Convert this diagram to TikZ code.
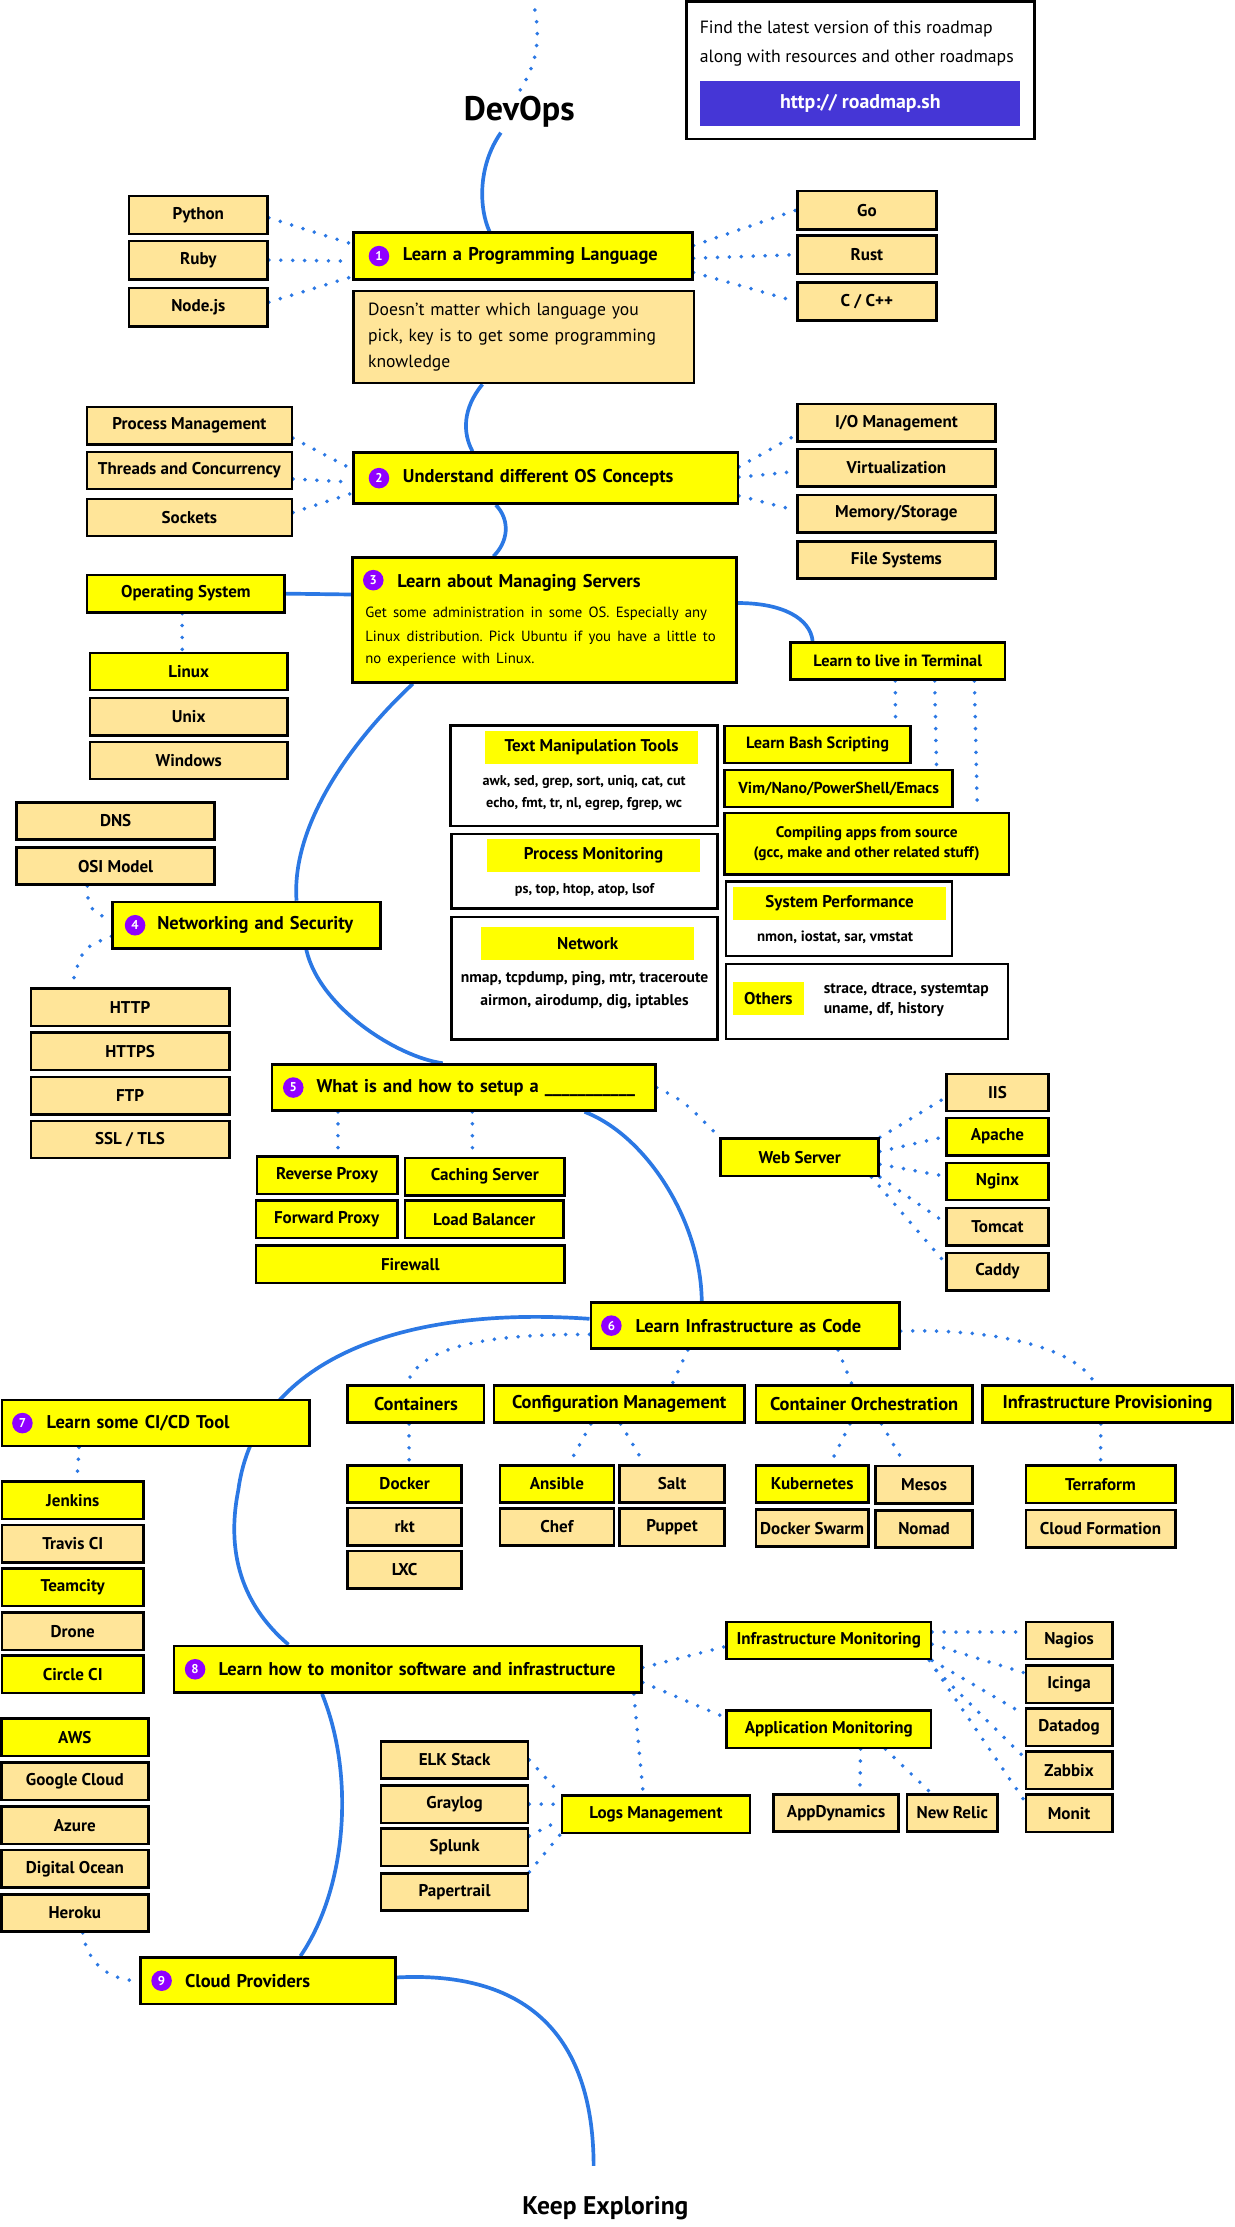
\documentclass[tikz,border=0pt]{standalone}
\usepackage{fontspec}
\setmainfont{PT Sans}
\frenchspacing
\definecolor{yel}{HTML}{FFFF00}
\definecolor{pale}{HTML}{FFE599}
\definecolor{road}{HTML}{2B78E4}
\definecolor{badgeviolet}{HTML}{9000FF}
\definecolor{indigo}{HTML}{4536D6}
\pgfdeclarelayer{bg}
\pgfsetlayers{bg,main}

\begin{document}
\begin{tikzpicture}[x=1pt, y=-1pt,
    box/.style={draw, line width=1.8pt, inner sep=0pt, minimum height=26.3pt, font=\bfseries\fontsize{12}{14}\selectfont},
    topic/.style={draw, line width=1.8pt, fill=yel, inner xsep=5pt, inner ysep=0pt, minimum height=33pt, align=left, font=\bfseries\fontsize{13}{15}\selectfont},
    badge/.style={circle, fill=badgeviolet, text=white, inner sep=0pt, minimum size=14.5pt, font=\bfseries\fontsize{9}{9}\selectfont},
    panel/.style={draw, line width=1.8pt, fill=white, inner sep=0pt},
    tag/.style={fill=yel, inner sep=0pt, minimum height=23.5pt, font=\bfseries\fontsize{12}{14}\selectfont},
    tools/.style={align=center, inner sep=0pt, font=\bfseries\fontsize{10}{15.7}\selectfont},
    spine/.style={road, line width=2.6pt},
    dots/.style={road, line width=2.8pt, line cap=round, dash pattern=on 0pt off 8.4pt}]
    \useasboundingbox (0,0) rectangle (870.4,1569.6);

    \node[font=\bfseries\fontsize{24}{26}\selectfont] (devops) at (366,79) {DevOps};
    \coordinate (top) at (377,7);
    \node[draw, line width=1.8pt, minimum width=245pt, minimum height=97pt] (rm) at (606.5,49.5) {};
    \node[anchor=west, align=left, inner sep=0pt, font=\fontsize{12.5}{19.9}\selectfont] (rmtext) at (493,30.65)
        {Find the latest version of this roadmap\\along with resources and other roadmaps};
    \node[fill=indigo, text=white, minimum width=225.3pt, minimum height=31.5pt, font=\bfseries\fontsize{14}{16}\selectfont] (url) at (606.35,72.75) {http:// roadmap.sh};

    \node[topic, text width=229pt] (b1) at (368.5,180.5) {\hspace*{30pt}Learn a Programming Language};
    \node[badge] (n1) at ([xshift=19pt]b1.west) {1};
    \node[draw, line width=1.8pt, fill=pale, text width=219pt, inner xsep=10.5pt, minimum height=65pt, align=left, font=\fontsize{12.4}{18.3}\selectfont] (d1) at (369,237.5)
        {Doesn't matter which language you\\pick, key is to get some programming\\knowledge};
    \foreach \n/\t/\y in {py/Python/151.5, rb/Ruby/183.3, nj/Node.js/216.5}
        \node[box, fill=pale, minimum width=97.6pt, minimum height=27pt] (\n) at (139.8,\y) {\t};
    \foreach \n/\t/\y in {go/Go/148.1, rs/Rust/179.5, cc/{C / C++}/212.5}
        \node[box, fill=pale, minimum width=98pt, minimum height=27pt] (\n) at (611,\y) {\t};

    \node[topic, minimum height=36pt, text width=261pt] (b2) at (384.5,337) {\hspace*{30pt}Understand different OS Concepts};
    \node[badge] (n2) at ([xshift=19pt]b2.west) {2};
    \foreach \n/\t/\y in {pm/Process Management/300, tc/Threads and Concurrency/331.6, so/Sockets/364.7}
        \node[box, fill=pale, minimum width=144.3pt] (\n) at (133.5,\y) {\t};
    \foreach \n/\t/\y in {io/{I/O Management}/298, vi/Virtualization/329.7, ms/{Memory/Storage}/362, fs/File Systems/394.6}
        \node[box, fill=pale, minimum width=139.5pt] (\n) at (631.8,\y) {\t};

    \node[topic, minimum height=88pt, text width=252.5pt, inner xsep=9pt] (b3) at (383.75,437)
        {\hspace*{22.5pt}Learn about Managing Servers\\[4.5pt]\normalfont\fontsize{10.4}{17}\selectfont
         Get some administration in some OS. Especially any\\Linux distribution. Pick Ubuntu if you have a little to\\no experience with Linux.};
    \node[badge] (n3) at ([xshift=15.5pt, yshift=-16.8pt]b3.north west) {3};
    \node[box, fill=yel, minimum width=139.3pt] (os) at (131,418.4) {Operating System};
    \foreach \n/\c/\t/\y in {lx/yel/Linux/473.3, ux/pale/Unix/505.2, wi/pale/Windows/536}
        \node[box, fill=\c, minimum width=139pt] (\n) at (133,\y) {\t};

    \node[box, fill=yel, minimum width=151pt, font=\bfseries\fontsize{11.5}{13}\selectfont] (lt) at (632.75,465.85) {Learn to live in Terminal};
    \node[box, fill=yel, minimum width=131pt, font=\bfseries\fontsize{11.5}{13}\selectfont] (bash) at (576.2,524.75) {Learn Bash Scripting};
    \node[box, fill=yel, minimum width=160.8pt, font=\bfseries\fontsize{11.2}{13}\selectfont] (vim) at (591.1,555.7) {Vim/Nano/PowerShell/Emacs};
    \node[box, fill=yel, minimum width=200.3pt, minimum height=43.4pt, align=center, font=\bfseries\fontsize{10.8}{14}\selectfont] (comp) at (610.85,594.7)
        {Compiling apps from source\\(gcc, make and other related stuff)};
    \node[panel, minimum width=159.2pt, minimum height=52.8pt] (sp) at (591.4,647.5) {};
    \node[tag, minimum width=150pt] (spl) at (591.75,636.85) {System Performance};
    \node[tools, font=\bfseries\fontsize{10.5}{15}\selectfont] (spc) at (588.6,660.3) {nmon, iostat, sar, vmstat};
    \node[panel, minimum width=198.7pt, minimum height=52.9pt] (ot) at (611.15,705.75) {};
    \node[tag, minimum width=49.6pt, minimum height=23.7pt] (otl) at (541.6,703.85) {Others};
    \node[tools, anchor=west, align=left, font=\bfseries\fontsize{11}{14.3}\selectfont] (otc) at (580.4,704.5)
        {strace, dtrace, systemtap\\uname, df, history};
    \node[panel, minimum width=188.2pt, minimum height=70.8pt] (tm) at (411.6,546.9) {};
    \node[tag, minimum width=150pt, minimum height=22.7pt] (tml) at (417,526.85) {Text Manipulation Tools};
    \node[tools] (tmc) at (411.7,559.1) {awk, sed, grep, sort, uniq, cat, cut\\echo, fmt, tr, nl, egrep, fgrep, wc};
    \node[panel, minimum width=187.3pt, minimum height=52.6pt] (pmo) at (412,614.1) {};
    \node[tag, minimum width=149.7pt] (pmol) at (418.35,603) {Process Monitoring};
    \node[tools] (pmoc) at (412,627) {ps, top, htop, atop, lsof};
    \node[panel, minimum width=187.3pt, minimum height=86.4pt] (nw) at (412,689.4) {};
    \node[tag, minimum width=149.7pt] (nwl) at (414.15,665) {Network};
    \node[tools, font=\bfseries\fontsize{11}{15.7}\selectfont] (nwc) at (412,697.75) {nmap, tcpdump, ping, mtr, traceroute\\airmon, airodump, dig, iptables};

    \node[topic, text width=178.8pt, minimum height=32.8pt] (b4) at (173.8,652.1) {\hspace*{26.5pt}Networking and Security};
    \node[badge] (n4) at ([xshift=16.7pt]b4.west) {4};
    \foreach \n/\t/\y in {dns/DNS/578.6, osi/OSI Model/610.4}
        \node[box, fill=pale, minimum width=139.6pt] (\n) at (81.5,\y) {\t};
    \foreach \n/\t/\y in {http/HTTP/710, https/HTTPS/740.9, ftp/FTP/772.25, ssl/{SSL / TLS}/803.1}
        \node[box, fill=pale, minimum width=139.9pt] (\n) at (91.65,\y) {\t};

    \node[topic, text width=260.4pt, minimum height=32.5pt] (b5) at (326.8,766.5) {\hspace*{26.5pt}What is and how to setup a \_\_\_\_\_\_\_\_\_\_\_};
    \node[badge] (n5) at ([xshift=16pt]b5.west) {5};
    \foreach \n/\t/\x/\y/\w in {rp/Reverse Proxy/230.5/828.35/99, cs/Caching Server/341.65/829.3/112.3,
                               fp/Forward Proxy/230.25/859.25/99.5, lb/Load Balancer/341.25/859.25/111.5,
                               fw/Firewall/289.15/890.95/217.3}
        \node[box, fill=yel, minimum width=\w pt] (\n) at (\x,\y) {\t};
    \node[box, fill=yel, minimum width=111.3pt] (ws) at (563.65,815.6) {Web Server};
    \foreach \n/\c/\t/\y in {iis/pale/IIS/769.95, ap/yel/Apache/801.05, ng/yel/Nginx/832.75, tom/pale/Tomcat/864.55, cad/pale/Caddy/896.25}
        \node[box, fill=\c, minimum width=71.6pt] (\n) at (703,\y) {\t};

    \node[topic, text width=207.6pt, minimum height=32.6pt] (b6) at (525.2,934.3) {\hspace*{26.5pt}Learn Infrastructure as Code};
    \node[badge] (n6) at ([xshift=15.4pt]b6.west) {6};
    \foreach \n/\t/\x/\w in {ct/Containers/293.15/96.1, cm/Configuration Management/436.45/176.5,
                            co/Container Orchestration/609.05/152.7, ip/Infrastructure Provisioning/780.55/176.3}
        \node[box, fill=yel, minimum width=\w pt, font=\bfseries\fontsize{13}{15}\selectfont] (\n) at (\x,989.55) {\t};
    \foreach \n/\c/\t/\x/\y/\w in {dk/yel/Docker/285.2/1045.9/80.2, rkt/pale/rkt/285.2/1076/80.2, lxc/pale/LXC/285.2/1106.3/80.2,
                                  an/yel/Ansible/392.5/1045.9/80.2, chef/pale/Chef/392.5/1076.2/80.2,
                                  salt/pale/Salt/473.65/1045.9/74.1, pup/pale/Puppet/473.65/1076.45/74.1,
                                  k8s/yel/Kubernetes/572.4/1045.9/79.4, sw/pale/Docker Swarm/572.4/1077/79.4,
                                  mes/pale/Mesos/651.3/1046.35/68.2, nom/pale/Nomad/651.3/1077.55/68.2,
                                  tf/yel/Terraform/775.65/1046.15/105.3, cf/pale/Cloud Formation/775.65/1077.5/105.3}
        \node[box, fill=\c, minimum width=\w pt] (\n) at (\x,\y) {\t};

    \node[topic, text width=206.7pt, minimum height=32.4pt] (b7) at (109.75,1003) {\hspace*{26.5pt}Learn some CI/CD Tool};
    \node[badge] (n7) at ([xshift=15.3pt]b7.west) {7};
    \foreach \n/\c/\t/\y in {jen/yel/Jenkins/1057.4, tra/pale/Travis CI/1087.9, tea/yel/Teamcity/1118.65, dro/pale/Drone/1149.65, cir/yel/Circle CI/1179.95}
        \node[box, fill=\c, minimum width=99.7pt] (\n) at (51.25,\y) {\t};
    \foreach \n/\c/\t/\y in {aws/yel/AWS/1224.35, gc/pale/Google Cloud/1255.35, az/pale/Azure/1286.45, dgo/pale/Digital Ocean/1317.15, her/pale/Heroku/1348.25}
        \node[box, fill=\c, minimum width=103.5pt] (\n) at (52.75,\y) {\t};

    \node[topic, text width=319.6pt, minimum height=33pt] (b8) at (287.4,1176.5) {\hspace*{26.5pt}Learn how to monitor software and infrastructure};
    \node[badge] (n8) at ([xshift=15.8pt]b8.west) {8};
    \node[box, fill=yel, minimum width=144pt] (im) at (584.1,1156.25) {Infrastructure Monitoring};
    \node[box, fill=yel, minimum width=144pt] (am) at (584.1,1218.7) {Application Monitoring};
    \node[box, fill=yel, minimum width=132.6pt] (lm) at (462.3,1278.6) {Logs Management};
    \foreach \n/\t/\y in {elk/ELK Stack/1240.4, gray/Graylog/1271.55, spl/Splunk/1302, pap/Papertrail/1333.45}
        \node[box, fill=pale, minimum width=103.5pt] (\n) at (320.4,\y) {\t};
    \node[box, fill=pale, minimum width=88pt] (appd) at (589.3,1277.75) {AppDynamics};
    \node[box, fill=pale, minimum width=63.6pt] (nr) at (671.2,1277.75) {New Relic};
    \foreach \n/\t/\y in {nag/Nagios/1156.25, ici/Icinga/1187.05, dat/Datadog/1217.35, zab/Zabbix/1247.65, mon/Monit/1278.1}
        \node[box, fill=pale, minimum width=61pt] (\n) at (753.5,\y) {\t};

    \node[topic, text width=169.7pt, minimum height=32.9pt] (b9) at (188.75,1396) {\hspace*{26.5pt}Cloud Providers};
    \node[badge] (n9) at ([xshift=15.9pt]b9.west) {9};
    \coordinate (kend) at (418.4,1526.5);
    \node[font=\bfseries\fontsize{18}{20}\selectfont] (ke) at (426.7,1556) {Keep Exploring};

    \begin{pgfonlayer}{bg}
    \draw[dots] (top) .. controls (381,30) and (378,45) .. (devops.north);
    \draw[spine] ([xshift=-13pt]devops.south) .. controls (336,118) and (338,148) .. ([xshift=-23.5pt]b1.north);
    \draw[dots] ([yshift=-2pt]py.east) -- ([yshift=8.5pt]b1.west);
    \draw[dots] (rb.east) -- ([yshift=-3.5pt]b1.west);
    \draw[dots] ([yshift=3.5pt]nj.east) -- ([yshift=-14.5pt]b1.west);
    \draw[dots] ([yshift=7.5pt]b1.east) -- (go.west);
    \draw[dots] ([yshift=-1.5pt]b1.east) -- (rs.west);
    \draw[dots] ([yshift=-11.5pt]b1.east) -- (cc.west);
    \draw[spine] ([xshift=-29pt]d1.south) .. controls (326,288) and (326,305) .. ([xshift=-51.5pt]b2.north);
    \draw[dots] ([yshift=-8.8pt]pm.east) -- ([yshift=6.3pt]b2.west);
    \draw[dots] ([yshift=-6pt]tc.east) -- ([yshift=-2.8pt]b2.west);
    \draw[dots] ([yshift=3.5pt]so.east) -- ([yshift=-10.6pt]b2.west);
    \draw[dots] ([yshift=8pt]b2.east) -- ([yshift=-8.5pt]io.west);
    \draw[dots] ([yshift=0.7pt]b2.east) -- ([yshift=-2.6pt]vi.west);
    \draw[dots] ([yshift=-12.5pt]b2.east) -- ([yshift=2.2pt]ms.west);
    \draw[spine] ([xshift=-35pt]b2.south) .. controls (360,367) and (358,382) .. ([xshift=-36pt]b3.north);
    \draw[spine] (os.east) -- ([yshift=18pt]b3.west);
    \draw[dots] ([xshift=-2.6pt]os.south) -- ([xshift=-4.6pt]lx.north);
    \draw[spine] ([yshift=12pt]b3.east) .. controls (552,425) and (571,436) .. ([xshift=-60pt]lt.north);
    \draw[dots] ([xshift=-1.75pt]lt.south) -- ([xshift=55pt]bash.north);
    \draw[dots] ([xshift=26pt]lt.south) -- ([xshift=69pt]vim.north);
    \draw[dots] ([xshift=54pt]lt.south) -- ([xshift=78pt]comp.north);
    \draw[spine] ([xshift=-92.75pt]b3.south) .. controls (250,520) and (205,580) .. ([xshift=35.2pt]b4.north);
    \draw[dots] ([xshift=-20pt]osi.south) .. controls (62,640) .. ([yshift=2.8pt]b4.west);
    \draw[dots] ([yshift=-7.8pt]b4.west) .. controls (58,668) .. ([xshift=-41.5pt]http.north);
    \draw[spine] ([xshift=42.1pt]b4.south) .. controls (225,710) and (280,745) .. ([xshift=-14.8pt]b5.north);
    \draw[dots] ([xshift=-88.6pt]b5.south) -- ([xshift=7.7pt]rp.north);
    \draw[dots] ([xshift=6.1pt]b5.south) -- ([xshift=-8.7pt]cs.north);
    \draw[dots] (b5.east) .. controls (482,776) .. (ws.north west);
    \draw[dots] (ws.north east) -- ([yshift=-3.7pt]iis.west);
    \draw[dots] ([yshift=4pt]ws.east) -- (ap.west);
    \draw[dots] ([yshift=-5pt]ws.east) -- ([yshift=3.7pt]ng.west);
    \draw[dots] (ws.south east) -- ([yshift=2.7pt]tom.west);
    \draw[dots] ([xshift=-6pt]ws.south east) -- ([yshift=6pt]cad.west);
    \draw[spine] ([xshift=85.2pt]b5.south) .. controls (455,800) and (494,860) .. ([xshift=-30.6pt]b6.north);
    \draw[spine] ([yshift=4.8pt]b6.west) .. controls (280,920) and (180,960) .. (168,1050)
        .. controls (158,1100) and (175,1135) .. ([xshift=-84.1pt]b8.north);
    \draw[dots] ([yshift=-6.2pt]b6.west) .. controls (340,940) and (295,950) .. ([xshift=-6.25pt]ct.north);
    \draw[dots] ([xshift=-40.4pt]b6.south) -- ([xshift=37.25pt]cm.north);
    \draw[dots] ([xshift=65.5pt]b6.south) -- ([xshift=-8.65pt]co.north);
    \draw[dots] ([yshift=-3.9pt]b6.east) .. controls (700,936) and (760,950) .. ([xshift=-8.85pt]ip.north);
    \draw[dots] ([xshift=-4.85pt]ct.south) -- ([xshift=3.1pt]dk.north);
    \draw[dots] ([xshift=-20pt]cm.south) -- ([xshift=8.6pt]an.north);
    \draw[dots] ([xshift=1pt]cm.south) -- ([xshift=-19.45pt]salt.north);
    \draw[dots] ([xshift=-10pt]co.south) -- ([xshift=12.7pt]k8s.north);
    \draw[dots] ([xshift=12.25pt]co.south) -- ([xshift=-13.3pt]mes.north);
    \draw[dots] ([xshift=-4.65pt]ip.south) -- (tf.north);
    \draw[dots] ([xshift=-54pt]b7.south) -- ([xshift=3pt]jen.north);
    \draw[spine] ([xshift=-60.4pt]b8.south) .. controls (250,1250) and (245,1330) .. ([xshift=23pt]b9.north);
    \draw[spine] ([yshift=2.3pt]b9.east) .. controls (350,1390) and (418,1415) .. (kend);
    \draw[dots] ([xshift=5.5pt]her.south) .. controls (62,1385) and (78,1396) .. (b9.west);
    \draw[dots] ([yshift=1.2pt]b8.east) -- ([yshift=-4.25pt]im.west);
    \draw[dots] ([yshift=-9.3pt]b8.east) -- ([yshift=8.2pt]am.west);
    \draw[dots] ([xshift=159.3pt]b8.south) -- ([xshift=-8.9pt]lm.north);
    \draw[dots] (elk.east) -- (lm.north west);
    \draw[dots] (gray.east) -- ([yshift=7pt]lm.west);
    \draw[dots] ([yshift=8pt]spl.east) -- ([yshift=-4pt]lm.west);
    \draw[dots] (pap.north east) -- (lm.south west);
    \draw[dots] ([xshift=22.5pt]am.south) -- ([xshift=16.7pt]appd.north);
    \draw[dots] ([xshift=40pt]am.south) -- ([xshift=-15.1pt]nr.north);
    \draw[dots] ([yshift=6pt]im.east) -- ([yshift=6pt]nag.west);
    \draw[dots] ([yshift=-2.6pt]im.east) -- ([yshift=8pt]ici.west);
    \draw[dots] (im.south east) -- ([yshift=9pt]dat.west);
    \draw[dots] ([xshift=3pt, yshift=-7pt]im.south east) -- ([yshift=8.8pt]zab.west);
    \draw[dots] ([xshift=-2pt]im.south east) -- ([yshift=8.8pt]mon.west);
    \end{pgfonlayer}
\end{tikzpicture}
\end{document}
